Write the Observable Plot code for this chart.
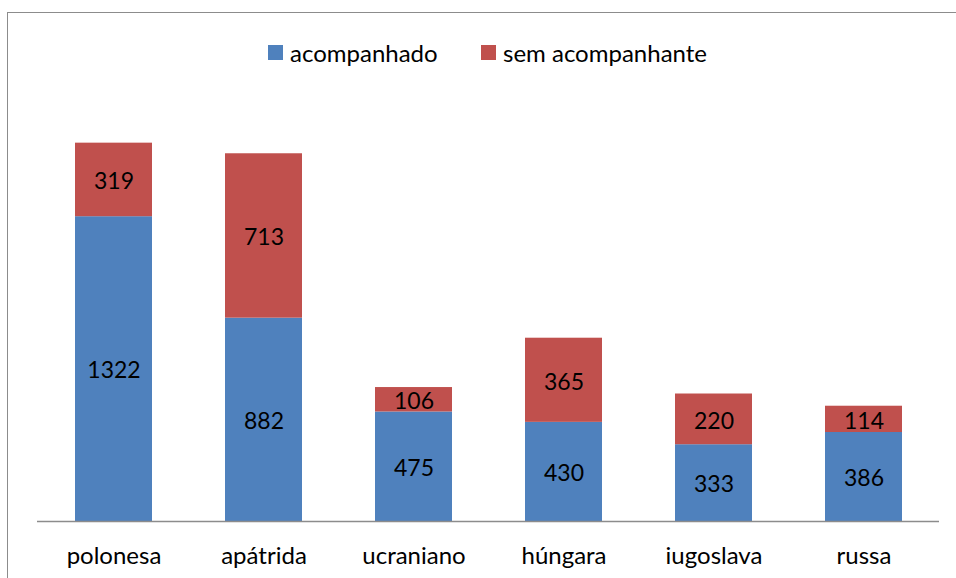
<!DOCTYPE html>
<html>
<head>
<meta charset="utf-8">
<script src="https://cdn.jsdelivr.net/npm/d3@7"></script>
<script src="https://cdn.jsdelivr.net/npm/@observablehq/plot@0.6"></script>
<style>
  html, body { margin: 0; padding: 0; background: #fff; }
  #wrap { position: relative; width: 956px; height: 578px; overflow: hidden; font-family: Lato, "Noto Sans", sans-serif; }
  #frame { position: absolute; left: 7px; top: 12px; width: 1000px; height: 700px; border: 1.5px solid #8c8c8c; box-sizing: border-box; }
  #chart { position: absolute; left: 0; top: 0; }
  #legend { position: absolute; top: 38px; left: 0; width: 956px; height: 28px; }
  .item { position: absolute; top: 0; display: flex; align-items: center; height: 28px; font-size: 24px; color: #000; white-space: nowrap; }
  .sw { width: 15px; height: 15px; margin-right: 7px; display: inline-block; }
</style>
</head>
<body>
<div id="wrap">
  <div id="frame"></div>
  <div id="chart"></div>
  <div id="legend"></div>
</div>
<script>
const categories = ["polonesa", "apátrida", "ucraniano", "húngara", "iugoslava", "russa"];
const acompanhado = [1322, 882, 475, 430, 333, 386];
const semAcompanhante = [319, 713, 106, 365, 220, 114];
const seriesNames = ["acompanhado", "sem acompanhante"];
const seriesColors = ["#4F81BD", "#C0504D"];

const data = [];
categories.forEach((c, i) => data.push({cat: c, series: seriesNames[0], value: acompanhado[i]}));
categories.forEach((c, i) => data.push({cat: c, series: seriesNames[1], value: semAcompanhante[i]}));

const plot = Plot.plot({
  width: 956,
  height: 578,
  marginLeft: 37,
  marginRight: 17,
  marginTop: 106,
  marginBottom: 57,
  style: {fontFamily: "Lato, 'Noto Sans', sans-serif", background: "transparent"},
  x: {domain: categories, paddingInner: 0.488, paddingOuter: 0.244, label: null},
  y: {domain: [0, 1800], axis: null},
  color: {domain: seriesNames, range: seriesColors},
  marks: [
    Plot.barY(data, {x: "cat", y: "value", fill: "series", z: "series", order: seriesNames}),
    Plot.text(data, Plot.stackY({x: "cat", y: "value", z: "series", order: seriesNames, text: d => String(d.value), fill: "#000", fontSize: 23, dy: 2})),
    Plot.ruleY([0], {stroke: "#8c8c8c", strokeWidth: 1.5}),
    Plot.axisX({tickSize: 0, tickPadding: 25, fontSize: 24, fill: "#000", label: null})
  ]
});
document.getElementById("chart").appendChild(plot);

const legend = document.getElementById("legend");
const lefts = [268, 481];
seriesNames.forEach((s, i) => {
  const it = document.createElement("div");
  it.className = "item";
  it.style.left = lefts[i] + "px";
  const sw = document.createElement("span");
  sw.className = "sw";
  sw.style.background = seriesColors[i];
  it.appendChild(sw);
  it.appendChild(document.createTextNode(s));
  legend.appendChild(it);
});
</script>
</body>
</html>
